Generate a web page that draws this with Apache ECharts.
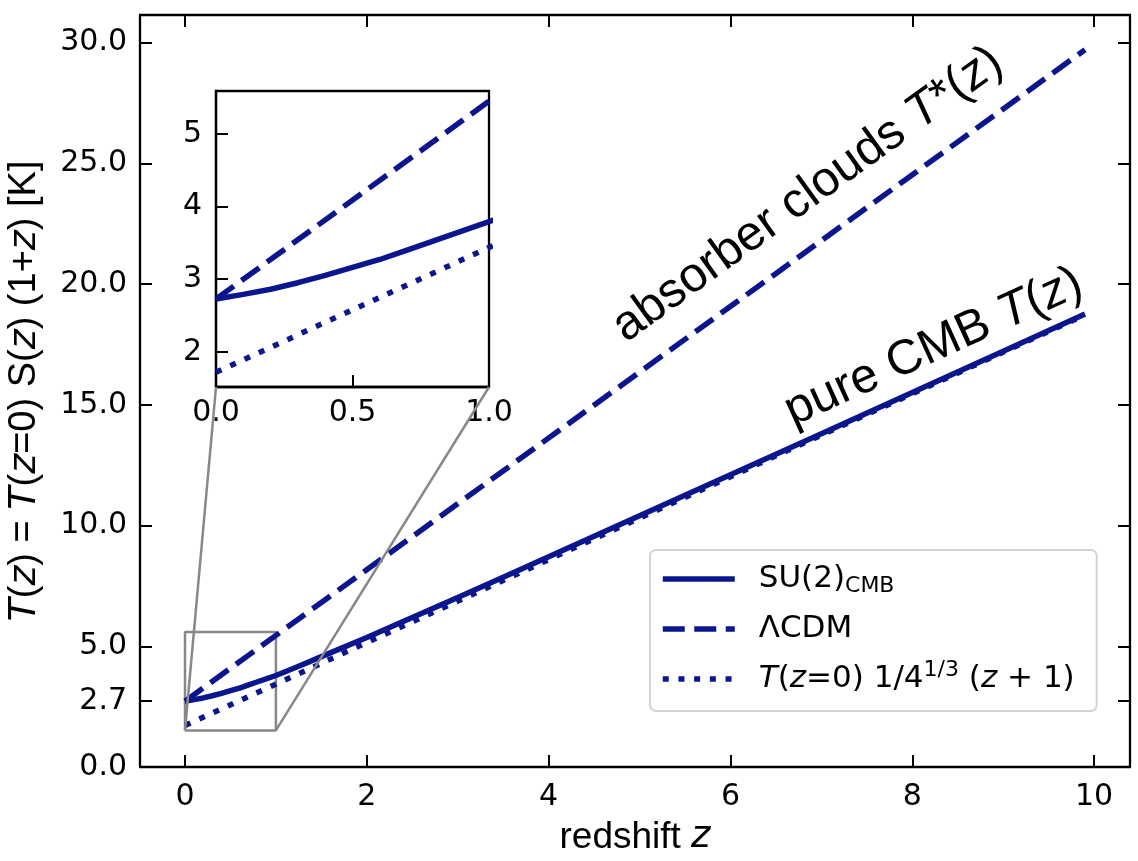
<!DOCTYPE html>
<html>
<head>
<meta charset="UTF-8">
<script src="https://cdn.jsdelivr.net/npm/echarts@6.0.0/dist/echarts.min.js"></script>
<style>
  html, body { margin: 0; padding: 0; background: #fff; }
  #chart { width: 1138px; height: 861px; }
</style>
</head>
<body>
<div id="chart"></div>
<script>
  // values
  var zSu2 = [0, 0.1, 0.2, 0.3, 0.4, 0.5, 0.6, 0.7, 0.8, 0.9, 1.0, 1.25, 1.5, 2, 2.5, 3, 3.5, 4, 5, 6, 7, 8, 9, 9.9];
  var tSu2 = [2.725, 2.79, 2.86, 2.95, 3.05, 3.16, 3.27, 3.40, 3.53, 3.66, 3.79, 4.17, 4.57, 5.36, 6.19, 7.02, 7.86, 8.71, 10.40, 12.10, 13.80, 15.51, 17.22, 18.76];
  var zLcdm = [0, 9.9];
  var tLcdm = [2.725, 29.70];
  var zLow = [0, 9.9];
  var tLow = [1.717, 18.72];

  var mainXTicks = [0, 2, 4, 6, 8, 10];
  var mainYTicks = [0, 2.725, 5, 10, 15, 20, 25, 30];
  var insetXRange = [0, 1];
  var insetYRange = [1.514, 5.59];
  var insetYTicks = [2, 3, 4, 5];

  var navy = '#0b168e';
  var tickFont = 'DejaVu Sans';
  var textFont = 'Liberation Sans';

  function pairs(xs, ys) {
    return xs.map(function (x, i) { return [x, ys[i]]; });
  }

  var legendText = {
    su2: 'SU(2){sub|CMB}',
    lcdm: '\u039BCDM',
    low: '{it|T}({it|z}=0) 1/4{sup|1/3} ({it|z} + 1)'
  };

  function axisCommon(extra) {
    var a = {
      type: 'value',
      splitLine: { show: false },
      axisLine: { show: true, onZero: false, lineStyle: { color: '#000', width: 2.3 } },
      axisTick: { show: true, inside: true, length: 12, lineStyle: { color: '#000', width: 2 } },
      axisLabel: { color: '#000', fontSize: 30, fontFamily: tickFont, margin: 14 }
    };
    for (var k in extra) {
      if (typeof extra[k] === 'object' && a[k] && !Array.isArray(extra[k])) {
        for (var j in extra[k]) a[k][j] = extra[k][j];
      } else {
        a[k] = extra[k];
      }
    }
    return a;
  }

  var lineSu2 = { color: navy, width: 5.5, type: 'solid' };
  var lineLcdm = { color: navy, width: 5.5, type: [22, 9.5], cap: 'butt' };
  var lineLow = { color: navy, width: 5.5, type: [6, 9.7], cap: 'butt' };

  function seriesSet(xi, yi) {
    return [
      { name: 'su2', type: 'line', xAxisIndex: xi, yAxisIndex: yi, data: pairs(zSu2, tSu2),
        showSymbol: false, symbol: 'none', lineStyle: lineSu2, itemStyle: { color: navy } },
      { name: 'lcdm', type: 'line', xAxisIndex: xi, yAxisIndex: yi, data: pairs(zLcdm, tLcdm),
        showSymbol: false, symbol: 'none', lineStyle: lineLcdm, itemStyle: { color: navy } },
      { name: 'low', type: 'line', xAxisIndex: xi, yAxisIndex: yi, data: pairs(zLow, tLow),
        showSymbol: false, symbol: 'none', lineStyle: lineLow, itemStyle: { color: navy } }
    ];
  }

  var boxZ = [insetXRange[0], insetXRange[1], insetXRange[1], insetXRange[0], insetXRange[0]];
  var boxT = [insetYRange[0], insetYRange[0], insetYRange[1], insetYRange[1], insetYRange[0]];

  var chart = echarts.init(document.getElementById('chart'));
  var option = {
    animation: false,
    backgroundColor: '#fff',
    grid: [
      { left: 140, top: 15, width: 990, height: 752, outerBoundsMode: 'none' },
      { left: 216, top: 91, width: 273, height: 296, outerBoundsMode: 'none', z: 5,
        show: true, backgroundColor: '#fff', borderColor: '#000', borderWidth: 2.3 }
    ],
    xAxis: [
      axisCommon({
        gridIndex: 0, position: 'bottom', min: -0.495, max: 10.395,
        axisTick: { customValues: mainXTicks },
        axisLabel: { customValues: mainXTicks, margin: 15 },
        name: 'redshift {it|z}', nameLocation: 'middle', nameGap: 52,
        nameTextStyle: {
          color: '#000', fontSize: 37, fontFamily: textFont,
          rich: { it: { fontSize: 37, fontFamily: 'DejaVu Sans', fontStyle: 'italic', color: '#000' } }
        }
      }),
      axisCommon({
        gridIndex: 0, position: 'top', min: -0.495, max: 10.395,
        axisTick: { customValues: mainXTicks },
        axisLabel: { show: false }
      }),
      axisCommon({
        gridIndex: 1, position: 'bottom', min: insetXRange[0], max: insetXRange[1], interval: 0.5,
        z: 6,
        axisLabel: { margin: 11, showMinLabel: true, showMaxLabel: true,
          formatter: function (v) { return v.toFixed(1); } }
      })
    ],
    yAxis: [
      axisCommon({
        gridIndex: 0, position: 'left', min: 0, max: 31.14,
        axisTick: { customValues: mainYTicks },
        axisLabel: { customValues: mainYTicks, margin: 13,
          formatter: function (v) { return v.toFixed(1); } },
        name: '{it|T}({it|z}) = {it|T}({it|z}=0) S({it|z}) (1+{it|z}) [K]',
        nameLocation: 'middle', nameRotate: 90, nameGap: 96,
        nameTextStyle: {
          color: '#000', fontSize: 38, fontFamily: textFont,
          rich: { it: { fontSize: 38, fontFamily: 'DejaVu Sans', fontStyle: 'italic', color: '#000' } }
        }
      }),
      axisCommon({
        gridIndex: 0, position: 'right', min: 0, max: 31.14,
        axisTick: { customValues: mainYTicks },
        axisLabel: { show: false }
      }),
      axisCommon({
        gridIndex: 1, position: 'left', min: insetYRange[0], max: insetYRange[1],
        z: 6,
        axisTick: { customValues: insetYTicks },
        axisLabel: { customValues: insetYTicks, margin: 14 }
      })
    ],
    legend: {
      data: ['su2', 'lcdm', 'low'],
      orient: 'vertical',
      left: 650, top: 550,
      padding: [9, 22, 12, 10],
      itemGap: 10,
      itemWidth: 72,
      itemHeight: 14,
      borderColor: '#d4d4d4', borderWidth: 2, borderRadius: 6,
      backgroundColor: 'rgba(255,255,255,0.85)',
      itemStyle: { color: 'rgba(0,0,0,0)', opacity: 0, borderWidth: 0 },
      lineStyle: { width: 5.5 },
      formatter: function (name) { return legendText[name]; },
      textStyle: {
        color: '#000', fontSize: 31, fontFamily: tickFont, lineHeight: 40,
        padding: [0, 0, 0, 19],
        rich: {
          sub: { fontSize: 22, fontFamily: tickFont, color: '#000', padding: [14, 0, 0, 0] },
          sup: { fontSize: 22, fontFamily: tickFont, color: '#000', padding: [0, 0, 18, 0] },
          it: { fontSize: 31, fontFamily: tickFont, fontStyle: 'italic', color: '#000' }
        }
      }
    },
    series: seriesSet(0, 0).concat([
      { name: 'box', type: 'line', xAxisIndex: 0, yAxisIndex: 0, data: pairs(boxZ, boxT),
        showSymbol: false, symbol: 'none', z: 1,
        lineStyle: { color: '#888', width: 2.5 } }
    ]).concat(seriesSet(2, 2).map(function (s) { s.z = 7; return s; }))
  };
  chart.setOption(option);

  // connectors from the zoom box to the inset, and the line labels
  var mainRef = { xAxisIndex: 0, yAxisIndex: 0 };
  var insRef = { xAxisIndex: 2, yAxisIndex: 2 };
  var b1 = chart.convertToPixel(mainRef, [insetXRange[0], insetYRange[0]]);
  var b2 = chart.convertToPixel(mainRef, [insetXRange[1], insetYRange[0]]);
  var i1 = chart.convertToPixel(insRef, [insetXRange[0], insetYRange[0]]);
  var i2 = chart.convertToPixel(insRef, [insetXRange[1], insetYRange[0]]);

  function slopeAngle(p, q) {
    var a = chart.convertToPixel(mainRef, p);
    var b = chart.convertToPixel(mainRef, q);
    return Math.atan2(a[1] - b[1], b[0] - a[0]);
  }
  var angLcdm = slopeAngle([zLcdm[0], tLcdm[0]], [zLcdm[1], tLcdm[1]]);
  var angSu2 = slopeAngle([zSu2[19], tSu2[19]], [zSu2[23], tSu2[23]]);
  var posLcdm = chart.convertToPixel(mainRef, [6.85, 23.7]);
  var posSu2 = chart.convertToPixel(mainRef, [8.235, 17.38]);

  var labelRich = {
    it: { fontSize: 49, fontFamily: textFont, fontStyle: 'italic', fill: '#000' }
  };

  chart.setOption({
    graphic: [
      { type: 'line', z: 20, shape: { x1: b1[0], y1: b1[1], x2: i1[0], y2: i1[1] },
        style: { stroke: '#888', lineWidth: 2.5 } },
      { type: 'line', z: 20, shape: { x1: b2[0], y1: b2[1], x2: i2[0], y2: i2[1] },
        style: { stroke: '#888', lineWidth: 2.5 } },
      { type: 'text', z: 20, x: posLcdm[0], y: posLcdm[1], rotation: angLcdm,
        style: { text: 'absorber clouds {it|T}*({it|z})', fontSize: 49, fontFamily: textFont,
          fill: '#000', align: 'center', verticalAlign: 'middle', rich: labelRich } },
      { type: 'text', z: 20, x: posSu2[0], y: posSu2[1], rotation: angSu2,
        style: { text: 'pure CMB {it|T}({it|z})', fontSize: 49, fontFamily: textFont,
          fill: '#000', align: 'center', verticalAlign: 'middle', rich: labelRich } }
    ]
  });
</script>
</body>
</html>
